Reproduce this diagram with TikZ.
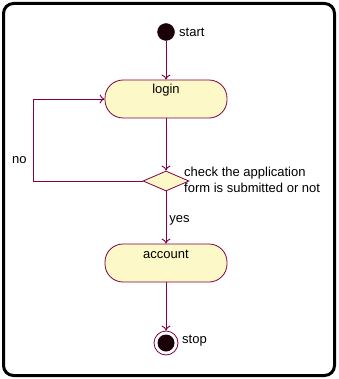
\documentclass[tikz,border=0pt]{standalone}
\usepackage{fontspec}
\setmainfont{Liberation Sans}
\usepackage{tikz}
\usetikzlibrary{arrows.meta,positioning,shapes.geometric}
\definecolor{umlline}{HTML}{800040}
\definecolor{umlfill}{HTML}{FCF8C8}
\definecolor{umldot}{HTML}{1A0008}
\tikzset{
  actbox/.style={draw=umlline,fill=umlfill,rounded corners=18pt,line width=0.8pt,
                 minimum width=122pt,minimum height=38pt,inner sep=5pt,
                 text height=9pt,text depth=19pt,align=center},
  decision/.style={diamond,draw=umlline,fill=umlfill,inner sep=0pt,line width=0.8pt,
                   minimum width=46pt,minimum height=20pt},
  initdot/.style={circle,fill=umldot,draw=umldot,minimum size=17pt,inner sep=0pt},
  finaldot/.style={circle,draw=umlline,fill=white,minimum size=24pt,inner sep=0pt,line width=0.8pt,
                   path picture={\fill[umldot] (path picture bounding box.center) circle (8.5pt);}},
  flow/.style={-{To[length=5pt,width=9pt]},draw=umlline,line width=0.9pt},
  flowlabel/.style={inner sep=1pt,align=left}
}

\begin{document}
\begin{tikzpicture}[x=1pt,y=-1pt,font=\fontsize{13}{16}\selectfont]
    \useasboundingbox (0,0) rectangle (338,379);
    \draw[line width=3pt,rounded corners=10pt] (3.5,3.5) rectangle (334.5,375.5);

    \node[initdot] (start) at (166,32) {};
    \node[actbox] (login) at (166,99) {login};
    \node[decision] (check) at (166,181) {};
    \node[actbox] (account) at (166,263) {account};
    \node[finaldot] (stop) at (166,343) {};
    \coordinate (loopcorner) at (33,99);

    \node[flowlabel,anchor=west] at (178,32) {start};
    \node[flowlabel,anchor=west] at (181,341) {stop};
    \node[flowlabel,anchor=north west] at (183,166) {check the application\\form is submitted or not};

    \draw[flow] (start) -- (login);
    \draw[flow] (login) -- (check);
    \draw[flow] (check) -- node[flowlabel,right=2pt,pos=0.55]{yes} (account);
    \draw[flow] (account) -- (stop);
    \draw[flow,draw=umlline] (check.west) -| (loopcorner) -- (login.west);
    \node[flowlabel,anchor=west] at (11,160) {no};
  \end{tikzpicture}
\end{document}
